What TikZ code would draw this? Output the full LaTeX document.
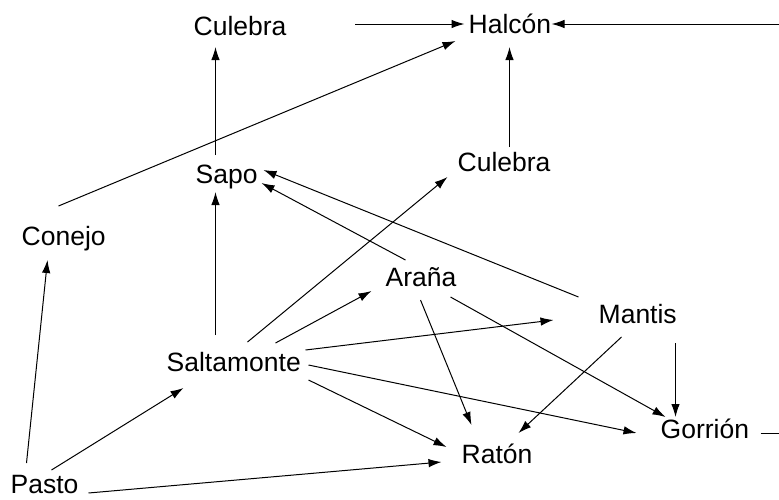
\documentclass[tikz,border=0pt]{standalone}
\usepackage{fontspec}
\setmainfont{Liberation Sans}
\usetikzlibrary{arrows.meta,calc}
\tikzset{
  lbl/.style={anchor=base west, inner sep=0pt, font=\fontsize{26.5}{30}\selectfont},
  arr/.style={line width=1pt, -{Latex[length=13pt,width=8.5pt]}},
  ln/.style={line width=1pt}
}
\begin{document}
\begin{tikzpicture}[x=1pt,y=-1pt]
\useasboundingbox (0,0) rectangle (779,499);
% nodes
\node[lbl] (cula) at (193.5,35) {Culebra};
\node[lbl] (hal)  at (468.5,33) {Halcón};
\node[lbl] (culb) at (457.5,171) {Culebra};
\node[lbl] (sapo) at (195.5,183) {Sapo};
\node[lbl] (con)  at (21.5,245) {Conejo};
\node[lbl] (ara)  at (385.5,286) {Araña};
\node[lbl] (man)  at (598.5,323) {Mantis};
\node[lbl] (sal)  at (166.5,371) {Saltamonte};
\node[lbl] (gor)  at (660.5,438) {Gorrión};
\node[lbl] (rat)  at (461.5,463) {Ratón};
\node[lbl] (pas)  at (10.5,493) {Pasto};
% free ends
\coordinate (hl) at (355,24);
\coordinate (hr) at (780,24);
\coordinate (gr) at (780,433);
% connectors
\draw[arr] (hl) -- ($(hal.base west)+(-4,-9)$);
\draw[arr] (hr) -- ($(hal.base west)+(83,-9)$);
\draw[arr] ($(con.base west)+(37,-39)$) -- ($(hal.base west)+(-13,8)$);
\draw[arr] ($(sapo.base west)+(20,-28)$) -- ($(cula.base west)+(22,12)$);
\draw[arr] ($(culb.base west)+(52,-24)$) -- ($(hal.base west)+(41,14)$);
\draw[arr] ($(man.base west)+(-20,-26)$) -- ($(sapo.base west)+(68,-13)$);
\draw[arr] ($(ara.base west)+(20,-26)$) -- ($(sapo.base west)+(66,0)$);
\draw[arr] ($(sal.base west)+(49,-36)$) -- ($(sapo.base west)+(20,9)$);
\draw[arr] ($(sal.base west)+(81,-29)$) -- ($(culb.base west)+(-10,6)$);
\draw[arr] ($(sal.base west)+(109,-28)$) -- ($(ara.base west)+(-14,5)$);
\draw[arr] ($(sal.base west)+(139,-21)$) -- ($(man.base west)+(-45,-3)$);
\draw[arr] ($(sal.base west)+(142,-6)$) -- ($(gor.base west)+(-24,-5)$);
\draw[arr] ($(sal.base west)+(142,9)$) -- ($(rat.base west)+(-15,-16)$);
\draw[arr] ($(ara.base west)+(35,14)$) -- ($(rat.base west)+(10,-38)$);
\draw[arr] ($(ara.base west)+(65,11)$) -- ($(gor.base west)+(5,-21)$);
\draw[arr] ($(man.base west)+(77,20)$) -- ($(gor.base west)+(15,-21)$);
\draw[arr] ($(man.base west)+(23,14)$) -- ($(rat.base west)+(57,-30)$);
\draw[ln]  ($(gor.base west)+(100,-5)$) -- (gr);
\draw[arr] ($(pas.base west)+(16,-30)$) -- ($(con.base west)+(26,15)$);
\draw[arr] ($(pas.base west)+(41,-23)$) -- ($(sal.base west)+(17,17)$);
\draw[arr] ($(pas.base west)+(78,0)$) -- ($(rat.base west)+(-20,-1)$);
\end{tikzpicture}
\end{document}
